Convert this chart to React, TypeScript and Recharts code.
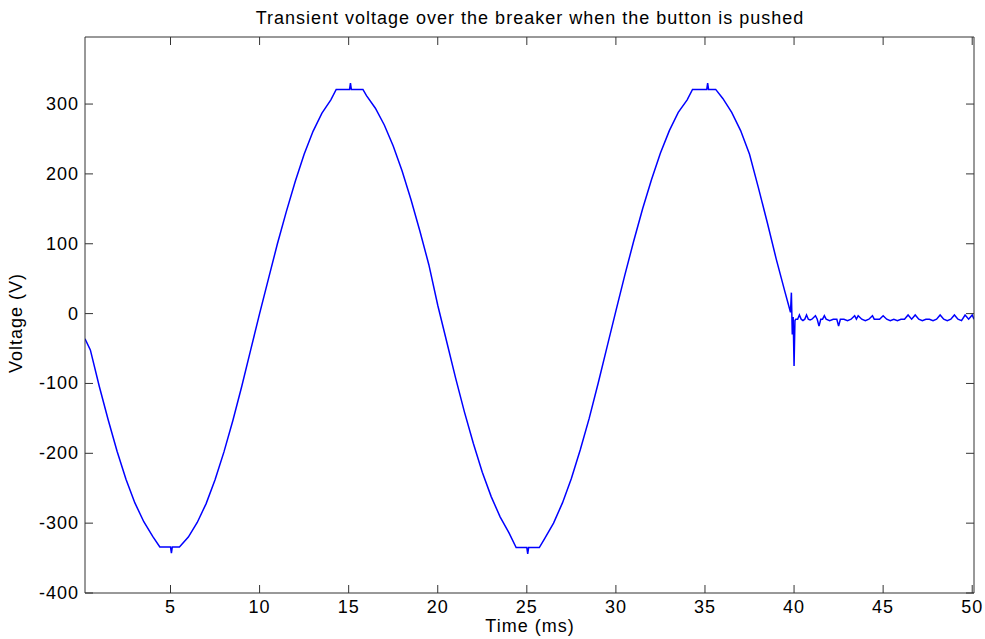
import { Line, LineChart, XAxis, YAxis } from 'recharts'

// time (ms) and measured voltage (V)
const timeMs = [
  0.2, 0.5, 1, 1.5, 2, 2.5, 3, 3.5, 4, 4.4, 5, 5.05, 5.1, 5.5, 6, 6.5, 7, 7.5, 8, 8.5, 9, 9.5, 10,
  10.5, 11, 11.5, 12, 12.5, 13, 13.5, 14, 14.3, 15.05, 15.1, 15.15, 15.8, 16, 16.5, 17, 17.5, 18, 18.5, 19, 19.5, 20,
  20.5, 21, 21.5, 22, 22.5, 23, 23.5, 24, 24.4, 25, 25.05, 25.1, 25.7, 26, 26.5, 27, 27.5, 28, 28.5, 29, 29.5, 30,
  30.5, 31, 31.5, 32, 32.5, 33, 33.5, 34, 34.3, 35.1, 35.15, 35.2, 35.6, 36, 36.5, 37, 37.5, 38, 38.5, 39, 39.5,
  39.8, 39.85, 39.9, 39.95, 40, 40.05, 40.1,
  40.2, 40.3, 40.4, 40.5, 40.6, 40.7, 40.8, 40.9, 41, 41.2, 41.3, 41.4, 41.5, 41.6, 41.7, 41.8, 42,
  42.2, 42.4, 42.5, 42.6, 42.8, 43, 43.2, 43.4, 43.5, 43.6, 43.8, 44, 44.2, 44.4, 44.5, 44.8, 45,
  45.2, 45.4, 45.6, 45.8, 46, 46.2, 46.4, 46.6, 46.8, 47, 47.2, 47.4, 47.6, 47.8, 48, 48.2, 48.4,
  48.6, 48.8, 49, 49.2, 49.4, 49.6, 49.8, 50, 50.1,
]
const voltage = [
  -36, -52, -104, -152, -197, -237, -271, -298, -319, -334, -334, -343, -334, -334, -320, -299, -272, -238, -198, -153, -104, -52, 0,
  50, 100, 146, 189, 228, 261, 287, 306, 321, 321, 330, 321, 321, 312, 294, 270, 240, 204, 163, 118, 70, 12,
  -40, -92, -141, -186, -227, -262, -291, -314, -335, -335, -344, -335, -335, -322, -300, -271, -236, -195, -150, -100, -48, 4,
  55, 104, 150, 192, 230, 262, 288, 306, 321, 321, 330, 321, 321, 308, 288, 262, 228, 180, 130, 78, 30,
  2, 30, -30, -5, -75, -10, -8,
  -8, -2, -8, -10, -8, -2, -8, -9, -8, -3, -8, -18, -8, -8, -3, -8, -10,
  -8, -8, -18, -8, -8, -10, -8, -3, -8, -3, -8, -10, -8, -3, -8, -8, -3,
  -8, -10, -8, -10, -8, -8, -2, -8, -2, -8, -10, -8, -8, -10, -8, -2, -8,
  -10, -8, -2, -8, -10, -2, -8, -2, -8,
]

const xTicks = [5, 10, 15, 20, 25, 30, 35, 40, 45, 50]
const yTicks = [-400, -300, -200, -100, 0, 100, 200, 300]

const data = timeMs.map((t, i) => ({ t, v: voltage[i] }))

const FONT = 'Liberation Sans, Arial, sans-serif'
const AXIS = '#333'
const TICK_LEN = 8
const X_DOMAIN = [0.2, 50.1]
const Y_DOMAIN = [-400, 396]

function BottomTick({ x, y, payload }: any) {
  return (
    <g>
      <line x1={x} y1={y} x2={x} y2={y - TICK_LEN} stroke={AXIS} strokeWidth={1} />
      <text x={x} y={y + 20} textAnchor="middle" fill="#000" fontSize={18} letterSpacing={1} fontFamily={FONT}>
        {payload.value}
      </text>
    </g>
  )
}

function TopTick({ x, y }: any) {
  return <line x1={x} y1={y} x2={x} y2={y + TICK_LEN} stroke={AXIS} strokeWidth={1} />
}

function LeftTick({ x, y, payload }: any) {
  return (
    <g>
      <line x1={x} y1={y} x2={x + TICK_LEN} y2={y} stroke={AXIS} strokeWidth={1} />
      <text x={x - 6} y={y + 6} textAnchor="end" fill="#000" fontSize={18} letterSpacing={1} fontFamily={FONT}>
        {payload.value}
      </text>
    </g>
  )
}

function RightTick({ x, y }: any) {
  return <line x1={x} y1={y} x2={x - TICK_LEN} y2={y} stroke={AXIS} strokeWidth={1} />
}

export default function App() {
  return (
    <div style={{ position: 'absolute', left: 0, top: 0, width: 985, height: 639, background: '#fff' }}>
      <LineChart
        width={985}
        height={639}
        data={data}
        margin={{ top: 36, right: 10, left: 25, bottom: 16 }}
      >
        <text x={530} y={24} textAnchor="middle" fontSize={18} letterSpacing={1} fontFamily={FONT} fill="#000">
          Transient voltage over the breaker when the button is pushed
        </text>
        <text x={530} y={632} textAnchor="middle" fontSize={18} letterSpacing={1} fontFamily={FONT} fill="#000">
          Time (ms)
        </text>
        <text
          x={22}
          y={323}
          textAnchor="middle"
          fontSize={18}
          letterSpacing={1}
          fontFamily={FONT}
          fill="#000"
          transform="rotate(-90 22 323)"
        >
          Voltage (V)
        </text>
        <XAxis
          xAxisId="bottom"
          dataKey="t"
          type="number"
          domain={X_DOMAIN}
          ticks={xTicks}
          allowDataOverflow
          height={30}
          tickSize={0}
          tickMargin={0}
          tickLine={false}
          axisLine={{ stroke: AXIS }}
          tick={<BottomTick />}
          interval={0}
        />
        <XAxis
          xAxisId="top"
          orientation="top"
          dataKey="t"
          type="number"
          domain={X_DOMAIN}
          ticks={xTicks}
          allowDataOverflow
          height={1}
          tickSize={0}
          tickMargin={0}
          tickLine={false}
          axisLine={{ stroke: AXIS }}
          tick={<TopTick />}
          interval={0}
        />
        <YAxis
          yAxisId="left"
          type="number"
          domain={Y_DOMAIN}
          ticks={yTicks}
          allowDataOverflow
          width={60}
          tickSize={0}
          tickMargin={0}
          tickLine={false}
          axisLine={{ stroke: AXIS }}
          tick={<LeftTick />}
          interval={0}
        />
        <YAxis
          yAxisId="right"
          orientation="right"
          type="number"
          domain={Y_DOMAIN}
          ticks={yTicks}
          allowDataOverflow
          width={1}
          tickSize={0}
          tickMargin={0}
          tickLine={false}
          axisLine={{ stroke: AXIS }}
          tick={<RightTick />}
          interval={0}
        />
        {/* invisible series so the mirrored top/right axes get drawn */}
        <Line
          xAxisId="top"
          yAxisId="right"
          type="linear"
          dataKey="v"
          stroke="none"
          dot={false}
          activeDot={false}
          isAnimationActive={false}
        />
        <Line
          xAxisId="bottom"
          yAxisId="left"
          type="linear"
          dataKey="v"
          stroke="#0000ff"
          strokeWidth={1.5}
          dot={false}
          isAnimationActive={false}
        />
      </LineChart>
    </div>
  )
}
